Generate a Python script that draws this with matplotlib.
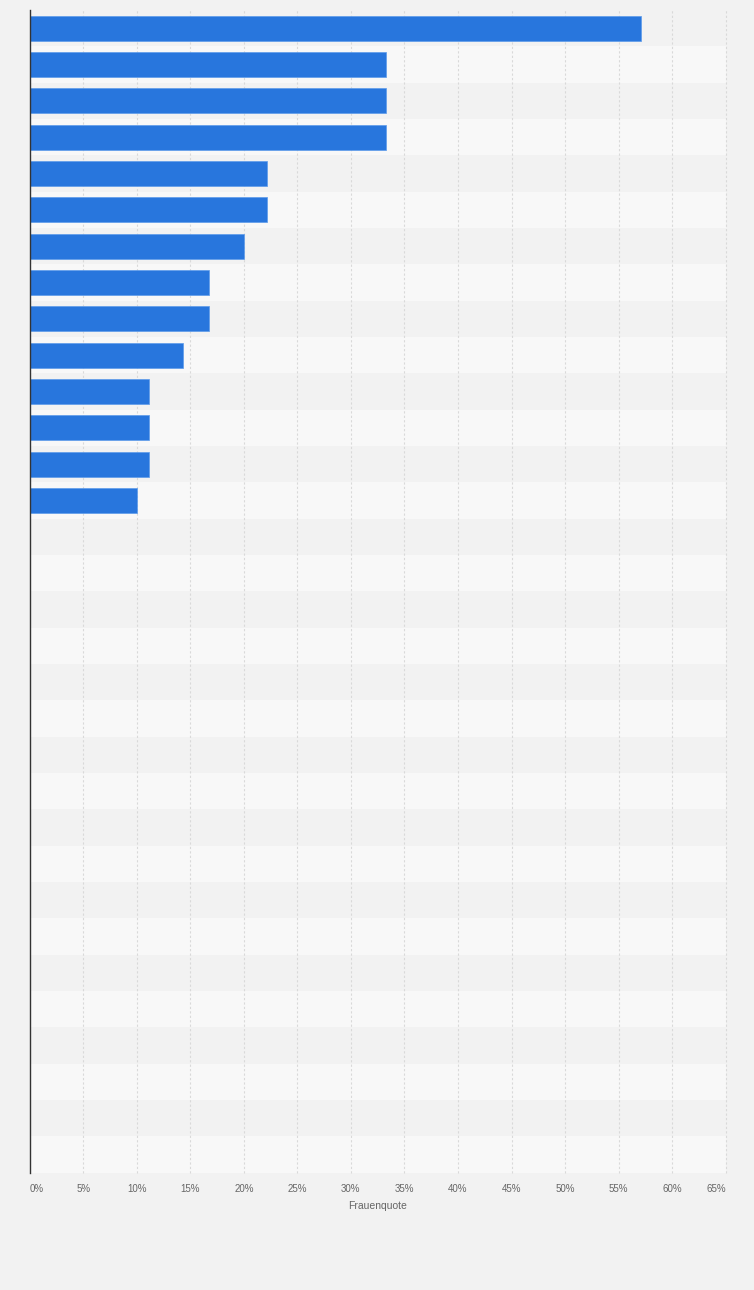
"""Frauenquote – horizontal bar chart (ranked)."""
import matplotlib.pyplot as plt
import numpy as np

# 32 rows in the chart, only the first 14 carry a value
values = [57.1, 33.3, 33.3, 33.3, 22.2, 22.2, 20.0, 16.7, 16.7, 14.3,
          11.1, 11.1, 11.1, 10.0] + [np.nan] * 18
x_ticks = [0, 5, 10, 15, 20, 25, 30, 35, 40, 45, 50, 55, 60, 65]
x_tick_labels = [f"{t}%" for t in x_ticks]
x_label = "Frauenquote"

BG = "#f2f2f2"
BAND_DARK = "#f2f2f2"
BAND_LIGHT = "#f8f8f8"
BAR = "#2876dd"
TXT = "#666666"

plt.rcParams["font.family"] = ["Liberation Sans", "DejaVu Sans"]

fig = plt.figure(figsize=(7.54, 12.9), dpi=100, facecolor=BG)
ax = fig.add_axes([29.7 / 754, 1 - 1172.7 / 1290, 696 / 754, 1162.7 / 1290])
ax.set_facecolor(BG)

n = len(values)
ypos = np.arange(n)
for i in ypos:
    ax.axhspan(i - 0.5, i + 0.5, color=BAND_DARK if i % 2 == 0 else BAND_LIGHT,
               lw=0, zorder=0)

for t in x_ticks[1:]:
    ax.axvline(t, color="#d9d9d9", lw=0.8, ls=(0, (2, 2)), zorder=1, clip_on=False)

vals = np.array(values, dtype=float)
has = ~np.isnan(vals)
ax.barh(ypos[has], vals[has], height=0.68, color=BAR,
        edgecolor="#5d9bea", linewidth=0.5, zorder=3)

ax.set_xlim(0, 65)
ax.set_ylim(n - 0.5, -0.5)
ax.set_yticks([])
ax.set_xticks(x_ticks)
ax.set_xticklabels(x_tick_labels, fontsize=7, color=TXT)
ax.tick_params(axis="x", length=0, pad=8)
labels = ax.get_xticklabels()
labels[0].set_ha("left")
labels[-1].set_ha("right")

for side in ("top", "right", "bottom"):
    ax.spines[side].set_visible(False)
ax.spines["left"].set_color("#333333")
ax.spines["left"].set_linewidth(1.0)
ax.spines["left"].set_zorder(4)

ax.set_xlabel(x_label, fontsize=7.5, color=TXT, labelpad=5)

fig.savefig("out.png", dpi=100, facecolor=BG)
